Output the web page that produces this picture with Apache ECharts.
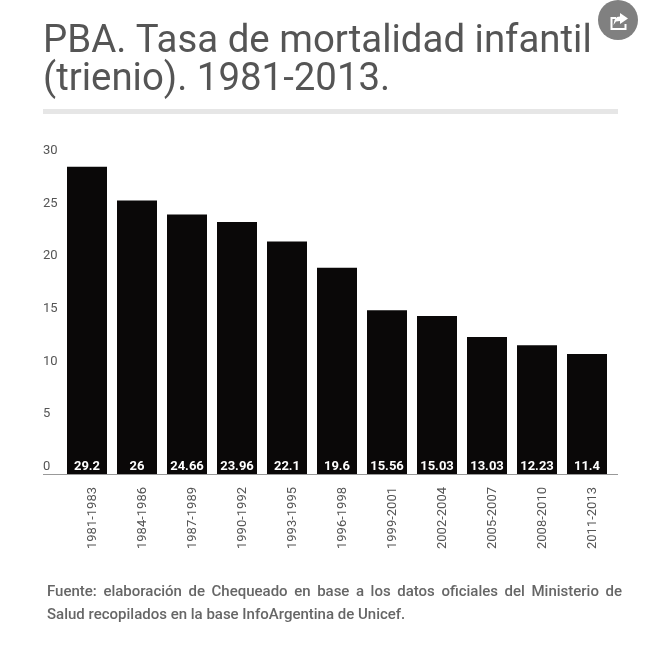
<!DOCTYPE html>
<html><head><meta charset="utf-8">
<style>html,body{margin:0;padding:0;background:#fff}#c{width:648px;height:660px}</style>
<script src="https://cdn.jsdelivr.net/npm/echarts@6/dist/echarts.min.js"></script>
</head><body><div id="c"></div>
<script>
const periods=["1981-1983","1984-1986","1987-1989","1990-1992","1993-1995","1996-1998","1999-2001","2002-2004","2005-2007","2008-2010","2011-2013"];
const rates=[29.2,26,24.66,23.96,22.1,19.6,15.56,15.03,13.03,12.23,11.4];
const titleLines=["PBA. Tasa de mortalidad infantil","(trienio). 1981-2013."];
const sourceLine1="Fuente: elaboración de Chequeado en base a los datos oficiales del Ministerio de";
const sourceLine2="Salud recopilados en la base InfoArgentina de Unicef.";
const FONT="Roboto, sans-serif";
const chart=echarts.init(document.getElementById('c'),null,{renderer:'canvas'});
const srcFont="500 15px Roboto";
const ctx=document.createElement('canvas').getContext('2d');ctx.font=srcFont;
const words=sourceLine1.split(' ');
const ww=words.map(w=>ctx.measureText(w).width);
const left=47,right=622;
const gap=(right-left-ww.reduce((a,b)=>a+b,0))/(words.length-1);
let xx=left;
const srcEls=words.map((w,i)=>{const el={type:'text',x:xx,y:592,style:{text:w,font:srcFont,fill:'#666',textVerticalAlign:'middle'}};xx+=ww[i]+gap;return el;});
chart.setOption({
  animation:false,backgroundColor:'#fff',
  grid:{left:62,width:550,top:158.4,bottom:186,containLabel:false},
  xAxis:{type:'category',data:periods,axisTick:{show:false},axisLine:{show:false},
    axisLabel:{rotate:90,interval:0,margin:13,color:'#555',fontFamily:FONT,fontSize:13,verticalAlign:'top',padding:[-1,0,0,0]}},
  yAxis:{type:'value',min:0,max:30,interval:5,splitLine:{show:false},axisLine:{show:false},axisTick:{show:false},
    axisLabel:{color:'#555',fontFamily:FONT,fontSize:13,align:'left',margin:19,verticalAlign:'bottom',padding:[0,0,1,0]}},
  series:[{type:'bar',data:rates,barWidth:40,itemStyle:{color:'#0a0808'},
    label:{show:true,position:'insideBottom',distance:1,color:'#fff',fontFamily:FONT,fontWeight:700,fontSize:13}}],
  graphic:[
    {type:'text',x:43,y:42,style:{text:titleLines[0],font:'400 38.4px Roboto',fill:'#555',textVerticalAlign:'middle'}},
    {type:'text',x:43,y:80,style:{text:titleLines[1],font:'400 38.4px Roboto',fill:'#555',textVerticalAlign:'middle'}},
    {type:'rect',shape:{x:43,y:109,width:575,height:5},style:{fill:'#e6e6e6'}},
    {type:'rect',shape:{x:43,y:474,width:575,height:1},style:{fill:'#999'}},
    ...srcEls,
    {type:'text',x:47,y:615,style:{text:sourceLine2,font:srcFont,fill:'#666',textVerticalAlign:'middle'}},
    {type:'circle',shape:{cx:618,cy:20,r:20},style:{fill:'#808080'}},
    {type:'polyline',shape:{points:[[616,18],[611.500,18],[611.500,29],[625.500,29],[625.500,24]]},style:{stroke:'#fff',fill:null,lineWidth:2}},
    {type:'polygon',shape:{points:[[620,13],[628,18.500],[620,24],[620,21],[616,21.500],[613.500,25],[614.500,20],[617,17],[620,16.500]]},style:{fill:'#fff'}}
  ]
});
</script></body></html>
